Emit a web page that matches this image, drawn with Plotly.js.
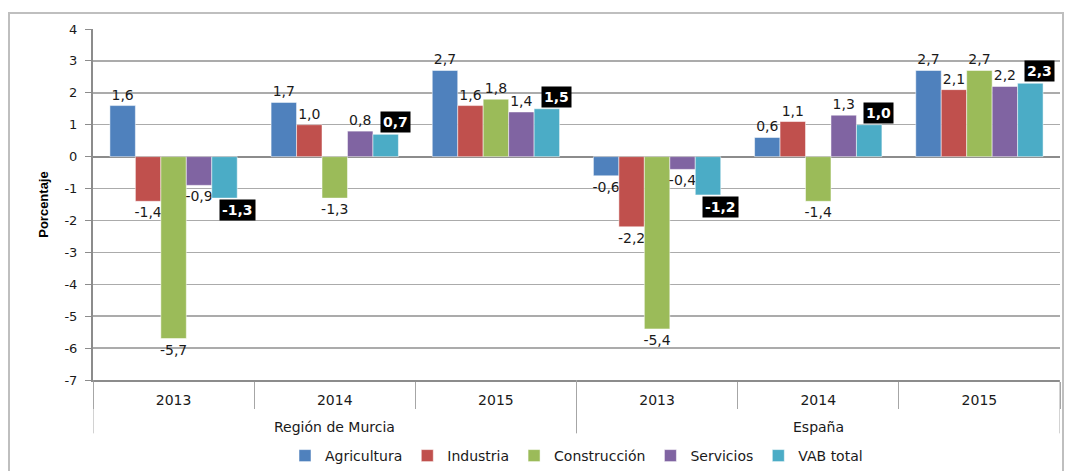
<!DOCTYPE html>
<html>
<head>
<meta charset="utf-8">
<script src="https://cdn.plot.ly/plotly-3.0.1.min.js"></script>
<style>
  html, body { margin: 0; padding: 0; background: #fff; }
  #wrap { position: relative; width: 1068px; height: 471px; }
  #chart { width: 1068px; height: 471px; }
  #frame { position: absolute; left: 8px; top: 12px; width: 1056px; height: 470px;
           border: 2px solid #bfbfbf; box-sizing: border-box; pointer-events: none; }
</style>
</head>
<body>
<div id="wrap"><div id="chart"></div><div id="frame"></div></div>
<script>
const regionNames = ['Región de Murcia', 'España'];
const years = ['2013','2014','2015','2013','2014','2015'];
const seriesNames = ['Agricultura','Industria','Construcción','Servicios','VAB total'];
const agricultura = [1.6, 1.7, 2.7, -0.6, 0.6, 2.7];
const industria = [-1.4, 1.0, 1.6, -2.2, 1.1, 2.1];
const construccion = [-5.7, -1.3, 1.8, -5.4, -1.4, 2.7];
const servicios = [-0.9, 0.8, 1.4, -0.4, 1.3, 2.2];
const vabTotal = [-1.3, 0.7, 1.5, -1.2, 1.0, 2.3];
const yTicks = [-7,-6,-5,-4,-3,-2,-1,0,1,2,3,4];

const colors = ['#4F81BD','#C0504D','#9BBB59','#8064A2','#4BACC6'];
const allSeries = [agricultura, industria, construccion, servicios, vabTotal];
const FONT = 'DejaVu Sans, sans-serif';
const TXT = '#1a1a1a';
const bargap = 0.21;

// category positions on the axis (0..n-1) derived from the year list
const pos = years.map((_, i) => i);
const boundaries = [-0.5].concat(pos.map(p => p + 0.5));
const perRegion = years.length / regionNames.length;

const traces = allSeries.map((vals, k) => {
  const isVab = k === 4;
  return {
    type: 'bar',
    name: seriesNames[k],
    x: pos,
    y: vals,
    marker: { color: colors[k], line: { color: 'rgba(255,255,255,0.5)', width: 1 } },
    texttemplate: isVab ? undefined : '%{y:.1f}',
    textposition: isVab ? 'none' : 'outside',
    textfont: { family: FONT, size: 14, color: TXT },
    constraintext: 'none',
    cliponaxis: false,
    hoverinfo: 'y+name'
  };
});

const w = (1 - bargap) / 5;
const annotations = vabTotal.map((v, i) => ({
  xref: 'x', yref: 'y',
  x: pos[i] + 2 * w, y: v,
  xanchor: 'left', xshift: -6,
  yanchor: v >= 0 ? 'bottom' : 'top',
  yshift: v >= 0 ? 1 : -1,
  text: '<b>' + v.toFixed(1).replace('.', ',') + '</b>',
  showarrow: false,
  bgcolor: '#000', borderpad: 2,
  font: { family: FONT, size: 14, color: '#fff' }
}));

regionNames.forEach((name, r) => {
  annotations.push({
    xref: 'x', yref: 'paper',
    x: r * perRegion + (perRegion - 1) / 2, y: -0.134,
    xanchor: 'center', yanchor: 'middle',
    text: name, showarrow: false,
    font: { family: FONT, size: 14, color: TXT }
  });
});

const shapes = [];
for (let r = 0; r <= regionNames.length; r++) {
  const xb = r * perRegion - 0.5;
  shapes.push({
    type: 'line', xref: 'x', yref: 'paper',
    x0: xb, x1: xb, y0: 0, y1: -0.152,
    line: { color: '#a6a6a6', width: 1 }
  });
}

const layout = {
  width: 1068, height: 471,
  margin: { l: 93, r: 8, t: 29, b: 91 },
  paper_bgcolor: '#fff', plot_bgcolor: '#fff',
  separators: ',.',
  barmode: 'group', bargap: bargap, bargroupgap: 0,
  font: { family: FONT, size: 14, color: TXT },
  showlegend: true,
  legend: { orientation: 'h', xref: 'paper', x: 0.5, xanchor: 'center',
            yref: 'container', y: 1 - 456 / 471, yanchor: 'middle',
            font: { family: FONT, size: 14, color: TXT }, traceorder: 'normal',
            itemwidth: 30 },
  xaxis: {
    type: 'linear', automargin: false,
    range: [-0.5, years.length - 0.5],
    tickvals: pos, ticktext: years,
    ticks: '', ticklabelstandoff: 6,
    minor: { tickvals: boundaries, ticks: 'outside', ticklen: 27, tickcolor: '#a6a6a6', tickwidth: 1, showgrid: false },
    showline: true, linecolor: '#8c8c8c', linewidth: 2,
    tickfont: { family: FONT, size: 14, color: TXT },
    showgrid: false, zeroline: false
  },
  yaxis: {
    range: [-7, 4], tickvals: yTicks, ticktext: yTicks.map(String),
    showgrid: true, gridcolor: '#ababab', gridwidth: 1.5,
    zeroline: true, zerolinecolor: '#8c8c8c', zerolinewidth: 2,
    showline: true, linecolor: '#8c8c8c', linewidth: 2,
    ticks: 'outside', ticklen: 6, tickcolor: '#8c8c8c', ticklabelstandoff: 5,
    tickfont: { family: FONT, size: 13, color: TXT },
    title: { text: '<b>Porcentaje</b>', font: { family: 'Liberation Sans Narrow, Liberation Sans, sans-serif', size: 13, color: '#000' }, standoff: 13 }
  },
  annotations: annotations,
  shapes: shapes
};

Plotly.newPlot('chart', traces, layout, { displayModeBar: false, staticPlot: true });
</script>
</body>
</html>
